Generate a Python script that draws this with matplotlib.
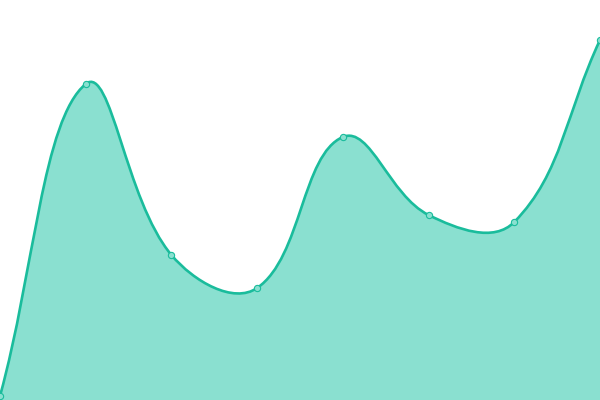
import matplotlib
matplotlib.use('Agg')
import numpy as np
import matplotlib.pyplot as plt
from matplotlib.path import Path
from matplotlib.patches import PathPatch

# 8个点，等距分布，y值按像素从底部读出
x_idx = [0, 1, 2, 3, 4, 5, 6, 7]
values = [4, 316, 145, 112, 263, 185, 178, 360]

LINE_COLOR = '#1abc9c'
FILL_COLOR = '#8ae0d0'
TENSION = 0.4

W, H = 600, 400
step = W / (len(x_idx) - 1)
xs = [i * step for i in x_idx]
ys = list(values)


def spline_controls(xs, ys, t):
    """Chart.js风格的贝塞尔控制点"""
    n = len(xs)
    ctrl = []
    for i in range(n):
        px, py = (xs[i - 1], ys[i - 1]) if i > 0 else (xs[i], ys[i])
        nx, ny = (xs[i + 1], ys[i + 1]) if i < n - 1 else (xs[i], ys[i])
        cx, cy = xs[i], ys[i]
        d01 = np.hypot(cx - px, cy - py)
        d12 = np.hypot(nx - cx, ny - cy)
        tot = d01 + d12
        s01 = d01 / tot if tot else 0
        s12 = d12 / tot if tot else 0
        fa, fb = t * s01, t * s12
        c1 = (cx - fa * (nx - px), cy - fa * (ny - py))
        c2 = (cx + fb * (nx - px), cy + fb * (ny - py))
        # 控制点限制在图表区域内
        c1 = (min(max(c1[0], 0), W), min(max(c1[1], 0), H))
        c2 = (min(max(c2[0], 0), W), min(max(c2[1], 0), H))
        ctrl.append((c1, c2))
    return ctrl


ctrl = spline_controls(xs, ys, TENSION)
verts = [(xs[0], ys[0])]
codes = [Path.MOVETO]
for i in range(1, len(xs)):
    verts += [ctrl[i - 1][1], ctrl[i][0], (xs[i], ys[i])]
    codes += [Path.CURVE4] * 3

fill_verts = verts + [(xs[-1], 0), (xs[0], 0), (xs[0], ys[0])]
fill_codes = codes + [Path.LINETO, Path.LINETO, Path.CLOSEPOLY]

fig = plt.figure(figsize=(6, 4), dpi=100)
ax = fig.add_axes([0, 0, 1, 1])
ax.set_xlim(0, W)
ax.set_ylim(0, H)
ax.axis('off')

ax.add_patch(PathPatch(Path(fill_verts, fill_codes), facecolor=FILL_COLOR, edgecolor='none'))
ax.add_patch(PathPatch(Path(verts, codes), facecolor='none', edgecolor=LINE_COLOR,
                       linewidth=1.9, capstyle='round', joinstyle='round'))
ax.plot(xs, ys, 'o', markersize=4.5, markerfacecolor=FILL_COLOR,
        markeredgecolor=LINE_COLOR, markeredgewidth=0.8, clip_on=False)

fig.savefig('out.png', dpi=100, facecolor='white')
